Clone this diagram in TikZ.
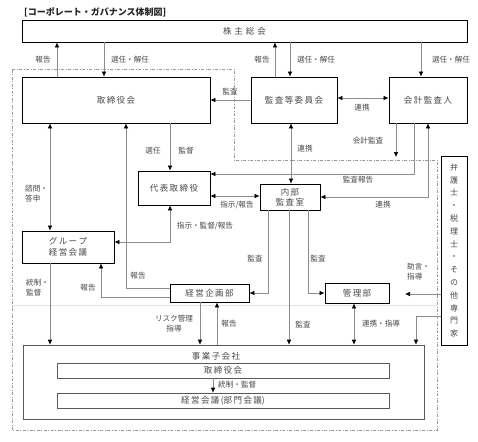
\documentclass[tikz,border=0pt]{standalone}
\usepackage{fontspec}
\setmainfont{Noto Sans CJK JP}
\usetikzlibrary{arrows.meta}
\definecolor{txt}{HTML}{484848}
\definecolor{ln}{HTML}{8C8C8C}
\definecolor{dsh}{HTML}{9A9A9A}
\newcommand{\boxfont}{\fontsize{8.5}{10.5}\selectfont}
\newcommand{\labfont}{\fontsize{7.6}{10}\selectfont}
\begin{document}
\begin{tikzpicture}[x=1pt,y=-1pt,
  >={Latex[length=5pt,width=4.6pt,color=black]},
  box/.style={draw=black, line width=0.9pt, inner sep=0pt, text=txt, font=\boxfont, align=center},
  sbox/.style={draw=black!65, line width=0.6pt, inner sep=0pt, text=txt, font=\boxfont, align=center},
  lab/.style={text=txt, font=\labfont, inner sep=0pt, align=center},
  labl/.style={text=txt, font=\labfont, inner sep=0pt, align=left},
  con/.style={draw=ln, line width=0.6pt}]
\useasboundingbox (0,0) rectangle (478,441);
\fill[white] (0,0) rectangle (478,441);
% outer dashed region
\draw[dsh, line width=0.6pt, dash pattern=on 3pt off 1.5pt on 1pt off 1.5pt]
  (12,69) -- (234,69) -- (234,160) -- (437,160) -- (437,430) -- (12,430) -- cycle;
\draw[black!12, line width=0.6pt] (12,305) -- (437,305);
% title
\node[anchor=west, inner sep=0pt, text=black!85, font=\bfseries\fontsize{9}{10}\selectfont] (title) at (24,12) {[コーポレート・ガバナンス体制図]};
% boxes
\node[box, minimum width=445pt, minimum height=22pt] (sh) at (244.5,31) {株\hspace{3pt}主\hspace{3pt}総\hspace{3pt}会};
\node[box, minimum width=188pt, minimum height=46pt] (tb) at (116,100) {取\,締\,役\,会};
\node[box, minimum width=86pt, minimum height=46pt] (kan) at (294,100) {監\,査\,等\,委\,員\,会};
\node[box, minimum width=78pt, minimum height=46pt] (kai) at (428,100) {会\,計\,監\,査\,人};
\node[box, minimum width=72pt, minimum height=34pt] (dai) at (174,188) {代\,表\,取\,締\,役};
\node[box, minimum width=60pt, minimum height=26pt, font=\fontsize{8.5}{10}\selectfont] (nai) at (290,197) {内\,部\\監\,査\,室};
\node[box, minimum width=92pt, minimum height=32pt, font=\fontsize{8.5}{11.5}\selectfont] (grp) at (68,247) {グ\,ル\,ー\,プ\\経\,営\,会\,議};
\node[box, minimum width=79pt, minimum height=18pt] (kik) at (209.5,293) {経\,営\,企\,画\,部};
\node[box, minimum width=64pt, minimum height=20pt] (kan2) at (357,293) {管\,理\,部};
\node[box, minimum width=26pt, minimum height=189pt, font=\fontsize{8}{12.8}\selectfont] (pro) at (454,250.5) {弁\\護\\士\\・\\税\\理\\士\\・\\そ\\の\\他\\専\\門\\家};
\node[sbox, minimum width=401pt, minimum height=74pt] (sub) at (223.5,382) {};
\node[lab, font=\boxfont] (subt) at (216,356) {事\,業\,子\,会\,社};
\node[sbox, minimum width=332pt, minimum height=15pt] (subtb) at (223,370.5) {取\,締\,役\,会};
\node[sbox, minimum width=332pt, minimum height=15pt] (subkai) at (223,400.5) {経\,営\,会\,議\,(部\,門\,会\,議)};
% connectors
\draw[con,->] (57,0 |- tb.north) -- (57,0 |- sh.south);
\draw[con,->] (104,0 |- sh.south) -- (104,0 |- tb.north);
\draw[con,->] (275,0 |- kan.north) -- (275,0 |- sh.south);
\draw[con,->] (290,0 |- sh.south) -- (290,0 |- kan.north);
\draw[con,->] (421,0 |- sh.south) -- (421,0 |- kai.north);
\draw[con,->] (kan.west |- 0,100) -- (tb.east |- 0,100);
\draw[con,<->] (kan.east |- 0,98) -- (kai.west |- 0,98);
\draw[con,->] (170,0 |- tb.south) -- (170,0 |- dai.north);
\draw[con,<->] (50,0 |- tb.south) -- (50,0 |- grp.north);
\draw[con,->] (kik.west |- 0,288) -- (126,288) -- (126,0 |- tb.south);
\draw[con,->] (kik.west |- 0,297) -- (101,297) -- (101,0 |- grp.south);
\draw[con,<->] (170,0 |- dai.south) -- (170,242) -- (grp.east |- 0,242);
\draw[con,->] (50,0 |- grp.south) -- (50,0 |- sub.north);
\draw[con,<->] (dai.east |- 0,196) -- (nai.west |- 0,196);
\draw[con,->] (414,0 |- kai.south) -- (414,174) -- (dai.east |- 0,174);
\coordinate (kaend) at (396,157);
\draw[con,->] (396,0 |- kai.south) -- (kaend);
\draw[con,<->] (428,0 |- kai.south) -- (428,197) -- (nai.east |- 0,197);
\draw[con,<->] (291,0 |- kan.south) -- (291,0 |- nai.north);
\draw[con,->] (268,0 |- nai.south) -- (268,293) -- (kik.east |- 0,293);
\draw[con,->] (289,0 |- nai.south) -- (289,0 |- sub.north);
\draw[con,->] (308,0 |- nai.south) -- (308,293) -- (kan2.west |- 0,293);
\draw[con,<->] (354,0 |- kan2.south) -- (354,0 |- sub.north);
\coordinate (jend) at (405,294);
\draw[con,->] (pro.west |- 0,294) -- (jend);
\draw[con,->] (pro.west |- 0,316) -- (416,316) -- (416,0 |- sub.north);
\draw[con,->] (200,0 |- kik.south) -- (200,0 |- sub.north);
\draw[con,->] (217,0 |- sub.north) -- (217,0 |- kik.south);
\draw[con,->] (213,0 |- subtb.south) -- (213,0 |- subkai.north);
% labels
\node[lab] (l1) at (43,60) {報告};
\node[lab] (l2) at (130,60) {選任・解任};
\node[lab] (l3) at (262,60) {報告};
\node[lab] (l4) at (316,60) {選任・解任};
\node[lab] (l5) at (451,60) {選任・解任};
\node[lab] (l6) at (230,92) {監査};
\node[lab] (l7) at (362,108) {連携};
\node[lab] (l8) at (153,151) {選任};
\node[lab] (l9) at (186,151) {監督};
\node[labl, anchor=west] (l10) at (25,194) {諮問・\\答申};
\node[lab] (l11) at (138,276) {報告};
\node[lab] (l12) at (88,288) {報告};
\node[lab] (l13) at (205,226) {指示・監督/報告};
\node[labl, anchor=west] (l14) at (26,288) {統制・\\監督};
\node[lab] (l15) at (237,205) {指示/報告};
\node[lab] (l16) at (358,180) {監査報告};
\node[lab] (l17) at (368,141) {会計監査};
\node[lab] (l18) at (383,205) {連携};
\node[lab] (l19) at (305,149) {連携};
\node[lab] (l20) at (255,259) {監査};
\node[lab] (l21) at (303,325) {監査};
\node[lab] (l22) at (318,259) {監査};
\node[lab] (l23) at (381,324) {連携・指導};
\node[labl, anchor=west] (l24) at (407,272) {助言・\\指導};
\node[lab] (l25) at (174,324) {リスク管理\\指導};
\node[lab] (l26) at (229,324) {報告};
\node[lab, anchor=west] (l27) at (218,385) {統制・監督};
\end{tikzpicture}
\end{document}
